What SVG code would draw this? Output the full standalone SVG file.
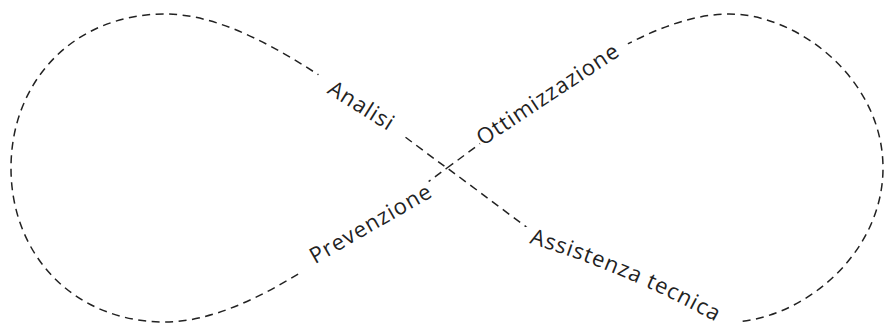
<svg xmlns="http://www.w3.org/2000/svg" xmlns:xlink="http://www.w3.org/1999/xlink" width="886" height="333" viewBox="0 0 886 333">
  <style>
    .loop { fill: none; stroke: #222; stroke-width: 1.5; stroke-dasharray: 8 5.5; }
    .lbl { font-family: "Open Sans", "Noto Sans", "DejaVu Sans", sans-serif; font-size: 22px; fill: #222; letter-spacing: 1px; }
    .gap { fill: none; stroke: #000; stroke-width: 18; stroke-linejoin: round; }
  </style>
  <defs>
    <path id="tA" d="M300,76 L415,148"/>
    <path id="tO" d="M471,154 L633,47"/>
    <path id="tP" d="M305,270 L444,190"/>
    <path id="tT" d="M529,243 C595,263 665,292 735,333"/>
    <mask id="gaps" maskUnits="userSpaceOnUse" x="0" y="0" width="886" height="333">
      <rect x="0" y="0" width="886" height="333" fill="#fff"/>
      <polyline class="gap" points="318,75.5 337.8,87.9 366.5,108.3 394.5,128.9 402,134.3"/>
      <polyline class="gap" points="480,143.5 499.5,128.9 542.1,98 585.4,68.5 628,44"/>
      <polyline class="gap" points="300,271 308.6,267.5 337.8,248.1 366.5,227.7 394.5,207.1 408,196.8 429,182"/>
      <polyline class="gap" points="527,226.5 527.5,227.7 585.4,267.5 629.5,293 673.1,311.7 701.5,319.3 729,322 738,321.8"/>
    </mask>
  </defs>
  <g id="connectors">
    <path class="loop" mask="url(#gaps)" d="M447,168 C530,108 639,14 729,14 C799,14 883,80 883,168 C883,256 799,322 729,322 C639,322 530,228 447,168 C364,108 255,14 165,14 C75,14 11,80 11,168 C11,256 75,322 165,322 C255,322 364,228 447,168 Z"/>
  </g>
  <g id="analisi">
    <text class="lbl"><textPath href="#tA" xlink:href="#tA" startOffset="50%" text-anchor="middle">Analisi</textPath></text>
  </g>
  <g id="ottimizzazione">
    <text class="lbl" letter-spacing="1.5"><textPath href="#tO" xlink:href="#tO" startOffset="50%" text-anchor="middle">Ottimizzazione</textPath></text>
  </g>
  <g id="prevenzione">
    <text class="lbl" letter-spacing="0.5"><textPath href="#tP" xlink:href="#tP" startOffset="50%" text-anchor="middle">Prevenzione</textPath></text>
  </g>
  <g id="assistenza">
    <text class="lbl" letter-spacing="1.5"><textPath href="#tT" xlink:href="#tT" startOffset="0">Assistenza tecnica</textPath></text>
  </g>
</svg>
